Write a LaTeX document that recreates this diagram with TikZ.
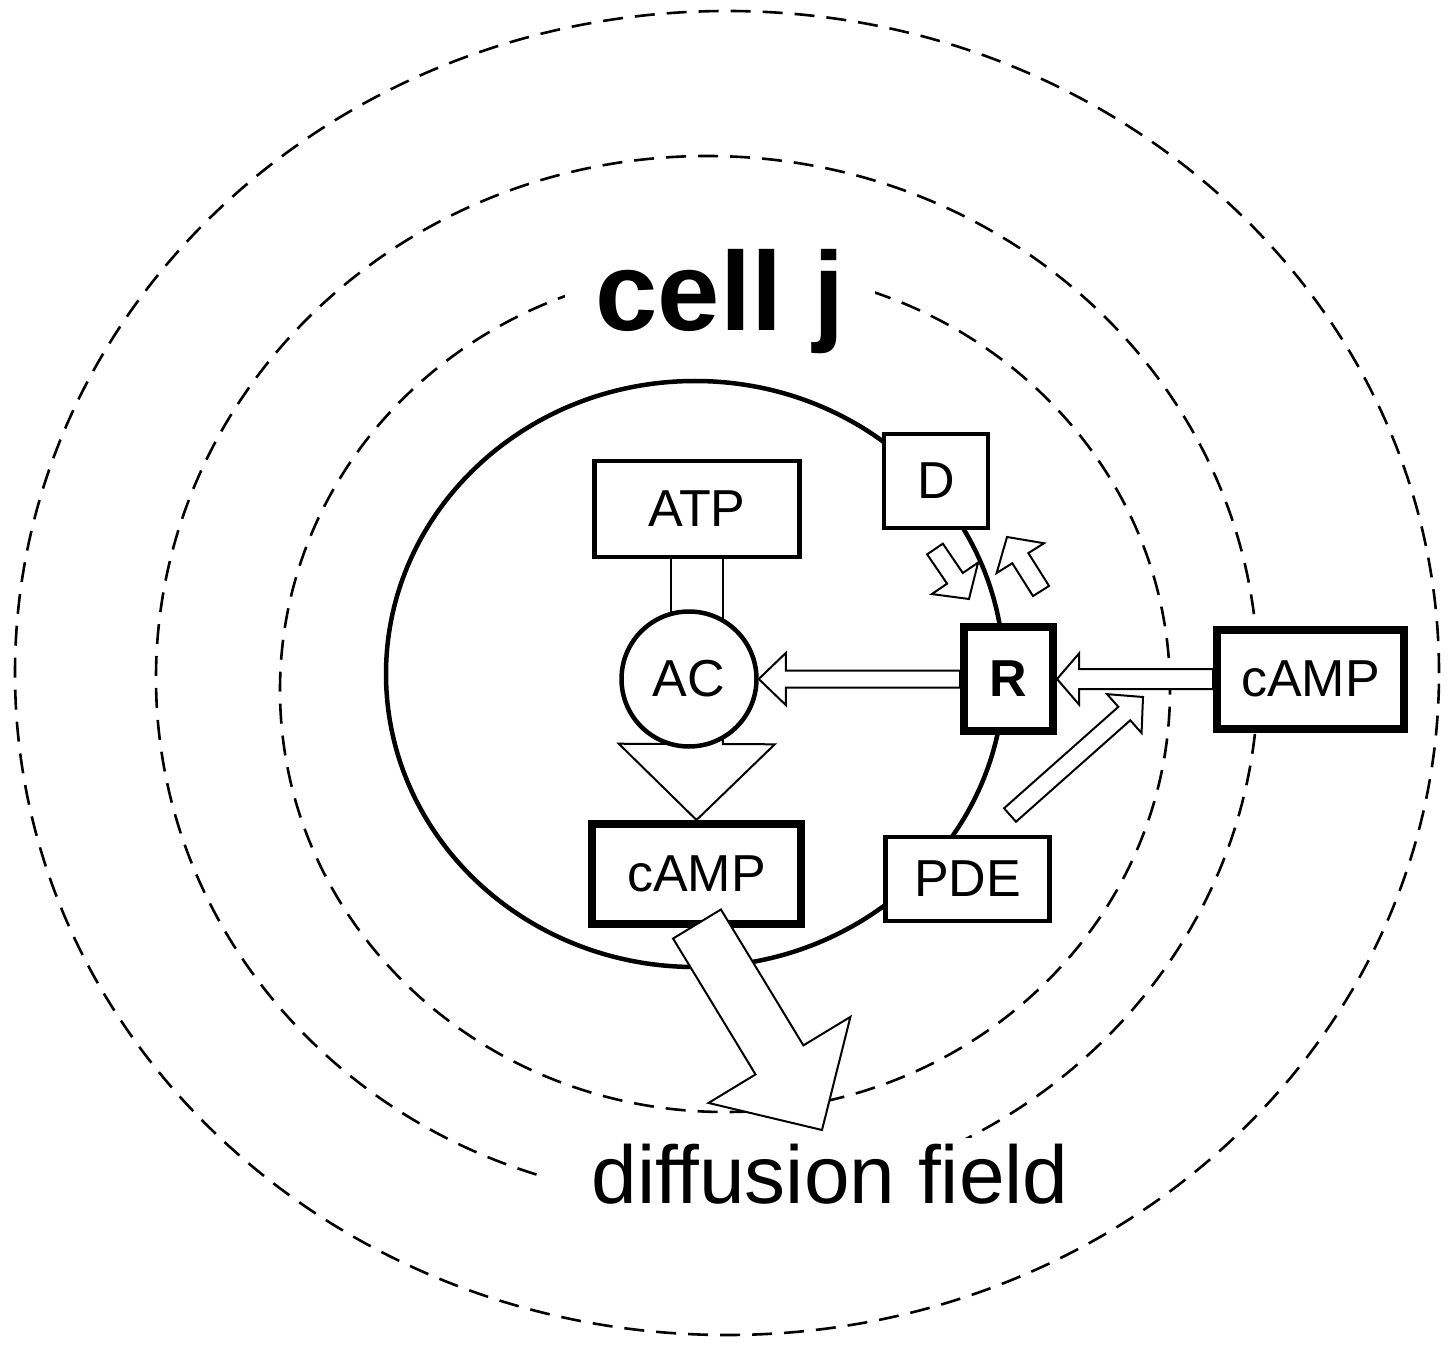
\documentclass[tikz,border=0pt]{standalone}
\usepackage{fontspec}
\setmainfont{Liberation Sans}
\usepackage{tikz}
\usetikzlibrary{calc,positioning}

% hollow block arrow: start, tip, half shaft, half head, head length
\newcommand{\blockarrow}[5]{%
  \coordinate (hb) at ($(#2)!#5!(#1)$);
  \path[hollow] ($(#1)!#3!90:(#2)$) -- ($(hb)!#3!90:(#2)$) -- ($(hb)!#4!90:(#2)$)
    -- (#2) -- ($(hb)!#4!-90:(#2)$) -- ($(hb)!#3!-90:(#2)$) -- ($(#1)!#3!-90:(#2)$) -- cycle;}

\begin{document}
\begin{tikzpicture}[x=0.5pt,y=-0.5pt]
	\tikzstyle{mol}=[draw,fill=white,line width=2.25pt,inner sep=0pt,font=\fontsize{26}{30}\selectfont]
	\tikzstyle{mol thick}=[mol,line width=4pt]
	\tikzstyle{field}=[dash pattern=on 10pt off 6pt,line width=1.3pt]
	\tikzstyle{hollow}=[draw,fill=white,line width=1pt,line join=miter]
	\useasboundingbox (0,0) rectangle (1449,1347);
	% diffusion field
	\draw[field] (727,673) ellipse [x radius=356pt, y radius=331pt];
	\draw[field] (707,678) ellipse [x radius=275.5pt, y radius=261pt];
	\draw[field] (725,690) ellipse [x radius=222.5pt, y radius=211pt];
	\node[fill=white,inner xsep=15pt,inner ysep=3pt,anchor=base,font=\fontsize{56}{60}\selectfont\bfseries] (cellj) at (720,331) {cell j};
	\node[fill=white,inner xsep=25pt,inner ysep=3pt,anchor=base,font=\fontsize{41}{46}\selectfont] (diff) at (830,1203) {diffusion field};
	% cell
	\draw[line width=2.25pt] (695,674) ellipse [x radius=154.5pt, y radius=146.5pt];
	\node[mol,minimum width=102.5pt,minimum height=48pt]        (atp)   at (697,509)     {ATP};
	\node[mol thick,minimum width=104.5pt,minimum height=50pt]  (campi) at (696.5,874)   {cAMP};
	\node[mol,minimum width=52pt,minimum height=47pt]           (d)     at (936,481)     {D};
	\node[mol thick,minimum width=44.5pt,minimum height=52pt,font=\fontsize{26}{30}\selectfont\bfseries] (r) at (1008.5,679) {R};
	\node[mol,minimum width=82pt,minimum height=42pt]           (pde)   at (967.5,879)   {PDE};
	\node[mol thick,minimum width=93.5pt,minimum height=49.5pt] (campo) [right=78pt of r] {cAMP};
	% synthesis
	\coordinate (acc) at (697,680);
	\draw[line width=1pt] ($(atp.south)+(-26,0)$) -- ($(acc)+(-26,0)$);
	\draw[line width=1pt] ($(atp.south)+(26,0)$)  -- ($(acc)+(26,0)$);
	\blockarrow{acc}{campi.north}{13pt}{39pt}{38pt}
	\node[mol,circle,minimum size=67.5pt] (ac) at (689,679) {AC};
	% signalling
	\blockarrow{r.west}{ac.east}{4.25pt}{13pt}{13.5pt}
	\blockarrow{campo.west}{r.east}{5pt}{12.75pt}{11pt}
	\coordinate (pdetail) at (1010,815);
	\coordinate (pdetip)  at (1143,697);
	\blockarrow{pdetail}{pdetip}{4.5pt}{13pt}{12.5pt}
	\coordinate (dtail) at (935,549);
	\coordinate (dtip)  at (969,599);
	\blockarrow{dtail}{dtip}{4.75pt}{14pt}{12.5pt}
	\coordinate (rtail) at (1041,591);
	\coordinate (rtip)  at (1007,537);
	\blockarrow{rtail}{rtip}{4.75pt}{14pt}{12.5pt}
	% secretion
	\coordinate (outtail) at (697,924);
	\coordinate (outtip)  at (822,1130);
	\blockarrow{outtail}{outtip}{14pt}{41.5pt}{41pt}
\end{tikzpicture}
\end{document}
